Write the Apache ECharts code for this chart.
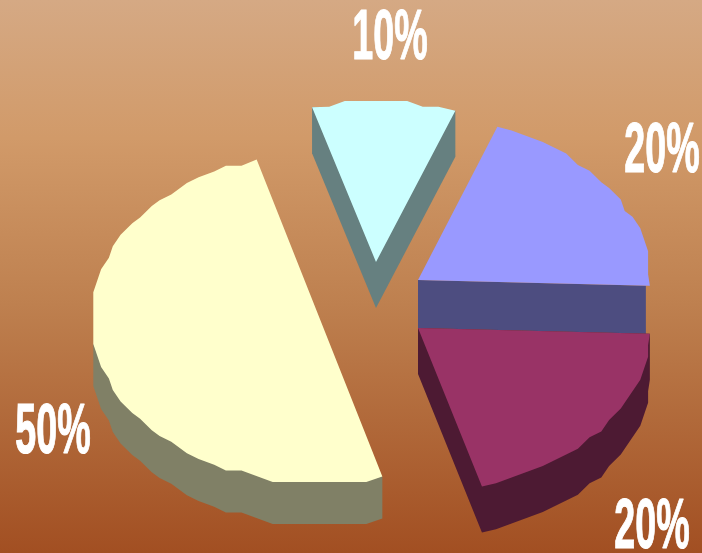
<!DOCTYPE html>
<html>
<head>
<meta charset="utf-8">
<style>html,body{margin:0;padding:0}#chart{width:702px;height:553px}</style>
<script src="https://cdn.jsdelivr.net/npm/echarts@6/dist/echarts.min.js"></script>
</head>
<body>
<div id="chart"></div>
<script>
// Slice shares, clockwise from the first slice's leading edge
const shareValues = [10, 20, 20, 50];

// Exploded slice geometry, in axis units
const pivotX = [376, 418, 418, 319.5];
const pivotY = [262, 280, 328, 318];
const radiusX = [232, 232, 232, 228];
const radiusY = [161, 163, 165, 165];
const wallDepth = [46, 48, 46, 42];
const wallInsetX = [0, 4, 0, 0];
const snapPhaseY = [0, 0, 0, 2.9];
const labelX = [390, 662, 652, 53];
const labelY = [39.5, 152.5, 528, 433.5];

const topColors = ['#CCFFFF', '#9999FF', '#993366', '#FFFFCC'];
const wallColors = ['#668080', '#4D4D80', '#4D1A33', '#808066'];

const firstAngle = 106;
const arcStep = 4;
const snapX = 3.9;
const snapY = 5.75;

const total = shareValues.reduce((a, b) => a + b, 0);
let running = 0;
const rows = shareValues.map((v) => {
  const row = [v, running];
  running += v;
  return row;
});

function renderSlice(params, api) {
  const i = params.dataIndex;
  const value = api.value(0);
  const before = api.value(1);
  const a0 = firstAngle - (before / total) * 360;
  const a1 = a0 - (value / total) * 360;
  const apex = api.coord([pivotX[i], pivotY[i]]);

  // Faceted rim of the slice, sampled along an ellipse and snapped to a coarse lattice
  const steps = Math.max(2, Math.round((a0 - a1) / arcStep));
  const rim = [];
  for (let s = 0; s <= steps; s++) {
    const t = ((a0 + (a1 - a0) * s / steps) * Math.PI) / 180;
    const p = api.coord([pivotX[i] + radiusX[i] * Math.cos(t), pivotY[i] - radiusY[i] * Math.sin(t)]);
    if (s === 0 || s === steps) {
      rim.push(p);
    } else {
      rim.push([
        apex[0] + Math.round((p[0] - apex[0]) / snapX) * snapX,
        apex[1] + snapPhaseY[i] + Math.round((p[1] - apex[1] - snapPhaseY[i]) / snapY) * snapY
      ]);
    }
  }
  const outline = [apex].concat(rim);

  // Silhouette of the extruded wall: the lower chain of the outline pushed down,
  // closed along the chord between the leftmost and rightmost outline points
  let left = 0;
  let right = 0;
  outline.forEach((p, k) => {
    if (p[0] < outline[left][0]) left = k;
    if (p[0] > outline[right][0]) right = k;
  });
  const maxX = outline[right][0] - wallInsetX[i];
  const wall = [[Math.min(outline[right][0], maxX), outline[right][1]]];
  for (let k = right; ; k = (k + 1) % outline.length) {
    wall.push([Math.min(outline[k][0], maxX), outline[k][1] + wallDepth[i]]);
    if (k === left) break;
  }
  wall.push(outline[left]);

  const at = api.coord([labelX[i], labelY[i]]);
  return {
    type: 'group',
    children: [
      { type: 'polygon', shape: { points: wall }, style: { fill: wallColors[i] } },
      { type: 'polygon', shape: { points: outline }, style: { fill: topColors[i] } },
      {
        type: 'text',
        x: at[0],
        y: at[1],
        scaleX: 0.53,
        z2: 10,
        style: {
          text: value + '%',
          font: 'bold 71px "Liberation Sans", Arial, sans-serif',
          fill: '#FFFFFF',
          stroke: '#FFFFFF',
          lineWidth: 1.2,
          align: 'center',
          verticalAlign: 'middle'
        }
      }
    ]
  };
}

const chart = echarts.init(document.getElementById('chart'), null, { renderer: 'canvas' });
chart.setOption({
  animation: false,
  backgroundColor: new echarts.graphic.LinearGradient(0, 0, 0, 1, [
    { offset: 0, color: '#D5A984' },
    { offset: 0.25, color: '#D19A69' },
    { offset: 0.55, color: '#BE804F' },
    { offset: 1, color: '#A24F22' }
  ]),
  grid: { left: 0, right: 0, top: 0, bottom: 0 },
  xAxis: { type: 'value', min: 0, max: 702, show: false },
  yAxis: { type: 'value', min: 0, max: 553, inverse: true, show: false },
  series: [{
    type: 'custom',
    coordinateSystem: 'cartesian2d',
    renderItem: renderSlice,
    encode: { x: -1, y: -1 },
    clip: false,
    silent: true,
    data: rows
  }]
});
</script>
</body>
</html>
